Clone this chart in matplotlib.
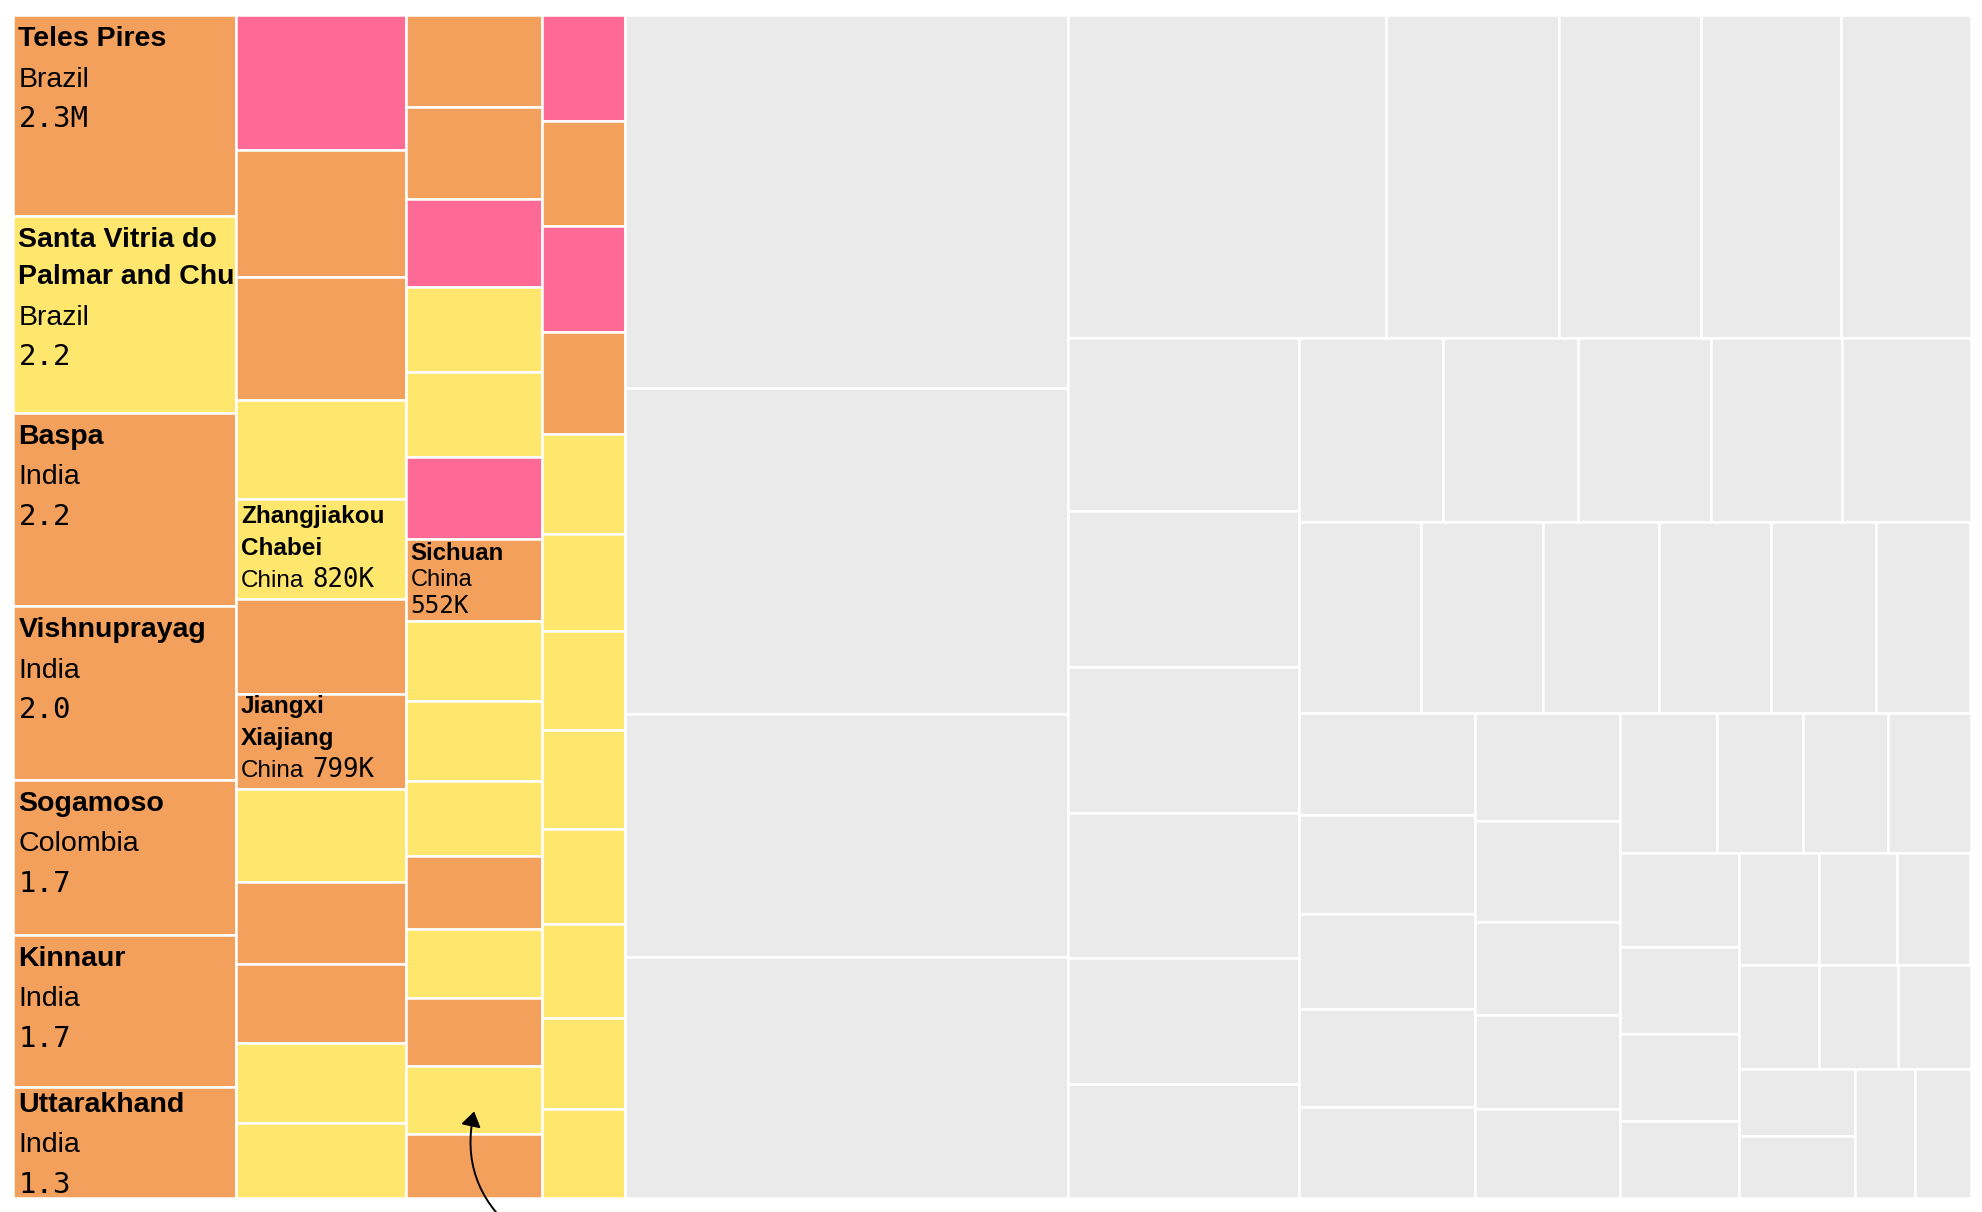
import matplotlib.pyplot as plt
from matplotlib.patches import Rectangle
from matplotlib.transforms import Bbox, TransformedBbox

# values in millions
highlight_values = [
    2.27, 2.22, 2.18, 1.96, 1.75, 1.72, 1.25,
    1.15, 1.09, 1.05, 0.84, 0.86, 0.81, 0.81, 0.79, 0.70, 0.68, 0.68, 0.64,
    0.634, 0.634, 0.606, 0.585, 0.579, 0.565, 0.565, 0.551, 0.551, 0.516,
    0.503, 0.476, 0.469, 0.469, 0.437,
    0.440, 0.436, 0.436, 0.423, 0.415, 0.402, 0.410, 0.410, 0.394, 0.390,
    0.377, 0.367,
]
highlight_status = [
    "o", "y", "o", "o", "o", "o", "o",
    "p", "o", "o", "y", "y", "o", "o", "y", "o", "o", "y", "y",
    "o", "o", "p", "y", "y", "p", "o", "y", "y", "y", "o", "y", "o", "y", "o",
    "p", "o", "p", "o", "y", "y", "y", "y", "y", "y", "y", "y",
]
other_values = [
    8.34, 7.29, 5.45, 5.38,
    5.17, 2.82, 2.31, 2.27, 2.11,
    2.01, 1.80, 1.70, 1.68, 1.46, 1.32,
    1.34, 1.25, 1.23, 1.22, 1.19,
    1.18, 1.18, 1.12, 1.08, 1.01, 0.91,
    0.90, 0.88, 0.85, 0.87, 0.81,
    0.79, 0.74, 0.68, 0.69, 0.65,
    0.68, 0.61, 0.60, 0.58,
    0.56, 0.52, 0.52, 0.46,
    0.45, 0.44, 0.41,
    0.42, 0.42, 0.38,
    0.39, 0.36,
    0.39, 0.36,
]

# treemap strips (items per strip, direction)
strip_sizes = [7, 12, 15, 12, 4, 5, 6, 5, 6, 5, 5, 4, 4, 3, 3, 2, 2]
strip_dirs = ["col", "col", "col", "col", "col", "row", "col", "row", "row",
              "col", "col", "row", "col", "row", "row", "col", "row"]

label_cells = [0, 1, 2, 3, 4, 5, 6, 11, 13, 25]
label_names = ["Teles Pires", "Santa Vitria do\nPalmar and Chui", "Baspa",
               "Vishnuprayag", "Sogamoso", "Kinnaur", "Uttarakhand",
               "Zhangjiakou\nChabei", "Jiangxi\nXiajiang", "Sichuan"]
label_countries = ["Brazil", "Brazil", "India", "India", "Colombia", "India",
                   "India", "China", "China", "China"]
label_amounts = ["2.3M", "2.2", "2.2", "2.0", "1.7", "1.7", "1.3",
                 "820K", "799K", "552K"]
label_styles = ["big"] * 7 + ["mid", "mid", "small"]

arrow_cell = 32

colors = {"o": "#F2A05C", "y": "#FFE76D", "p": "#FF6996", "g": "#EAEAEA"}
SANS = "Liberation Sans"
MONO = "DejaVu Sans Mono"

styles = {
    "big": dict(name=20.5, sub=20.5, num=21, pad=6, first=31, gap_name=37, gap=40.5, margin=5, inline=False),
    "mid": dict(name=17.5, sub=17.5, num=18.5, pad=4.5, first=25, gap_name=32, gap=32, margin=12, inline=True),
    "small": dict(name=17.3, sub=17, num=17.5, pad=4.5, first=21, gap_name=26.5, gap=26.5, margin=8, inline=False),
}


def layout(values, sizes, dirs, x0, y0, x1, y1):
    out = []
    remaining = sum(values)
    i = 0
    for n, d in zip(sizes, dirs):
        vals = values[i:i + n]
        s = sum(vals)
        if d == "col":
            w = (x1 - x0) * s / remaining
            y = y0
            for v in vals:
                h = (y1 - y0) * v / s
                out.append((x0, y, w, h))
                y += h
            x0 += w
        else:
            h = (y1 - y0) * s / remaining
            x = x0
            for v in vals:
                w = (x1 - x0) * v / s
                out.append((x, y0, w, h))
                x += w
            y0 += h
        remaining -= s
        i += n
    return out


W, H = 1958, 1183
fig = plt.figure(figsize=(19.82, 12.12), dpi=100, facecolor="white")
ax = fig.add_axes([12.5 / 1982, 14 / 1212, W / 1982, H / 1212])
ax.set_xlim(0, W)
ax.set_ylim(H, 0)
ax.axis("off")

values = highlight_values + other_values
status = highlight_status + ["g"] * len(other_values)
rects = layout(values, strip_sizes, strip_dirs, 0, 0, W, H)

for (x, y, w, h), c in zip(rects, status):
    ax.add_patch(Rectangle((x, y), w, h, facecolor=colors[c],
                           edgecolor="white", linewidth=1.8))

for k, idx in enumerate(label_cells):
    x, y, w, h = rects[idx]
    st = styles[label_styles[k]]
    clip = TransformedBbox(Bbox.from_bounds(x, y, w, h), ax.transData)
    lines = label_names[k].split("\n")
    offs = [st["first"] + j * st["gap_name"] for j in range(len(lines))]
    if st["inline"]:
        subs = [offs[-1] + st["gap"]]
    else:
        subs = [offs[-1] + st["gap"], offs[-1] + 2 * st["gap"]]
    shift = max(0, subs[-1] - (h - st["margin"]))
    tx = x + st["pad"]
    texts = []
    for line, o in zip(lines, offs):
        texts.append(ax.text(tx, y + o - shift, line, fontsize=st["name"],
                             family=SANS, fontweight="bold", va="baseline"))
    ct = ax.text(tx, y + subs[0] - shift, label_countries[k], fontsize=st["sub"],
                 family=SANS, va="baseline")
    texts.append(ct)
    if st["inline"]:
        nt = ax.annotate(label_amounts[k], xy=(1, y + subs[0] - shift),
                         xycoords=(ct, "data"), xytext=(6, 0),
                         textcoords="offset points", fontsize=st["num"],
                         family=MONO, va="baseline")
    else:
        nt = ax.text(tx, y + subs[1] - shift, label_amounts[k], fontsize=st["num"],
                     family=MONO, va="baseline")
    texts.append(nt)
    for t in texts:
        t.set_clip_box(clip)
        t.set_clip_on(True)

x, y, w, h = rects[arrow_cell]
ax.annotate("", xy=(x + w / 2, y + h / 2 + 11), xytext=(29, -86),
            textcoords="offset points", annotation_clip=False,
            arrowprops=dict(arrowstyle="-|>,head_length=0.45,head_width=0.3",
                            mutation_scale=20, color="black", lw=1.4,
                            connectionstyle="arc3,rad=-0.3",
                            shrinkA=0, shrinkB=0))

fig.savefig("out.png", dpi=100, facecolor="white")
